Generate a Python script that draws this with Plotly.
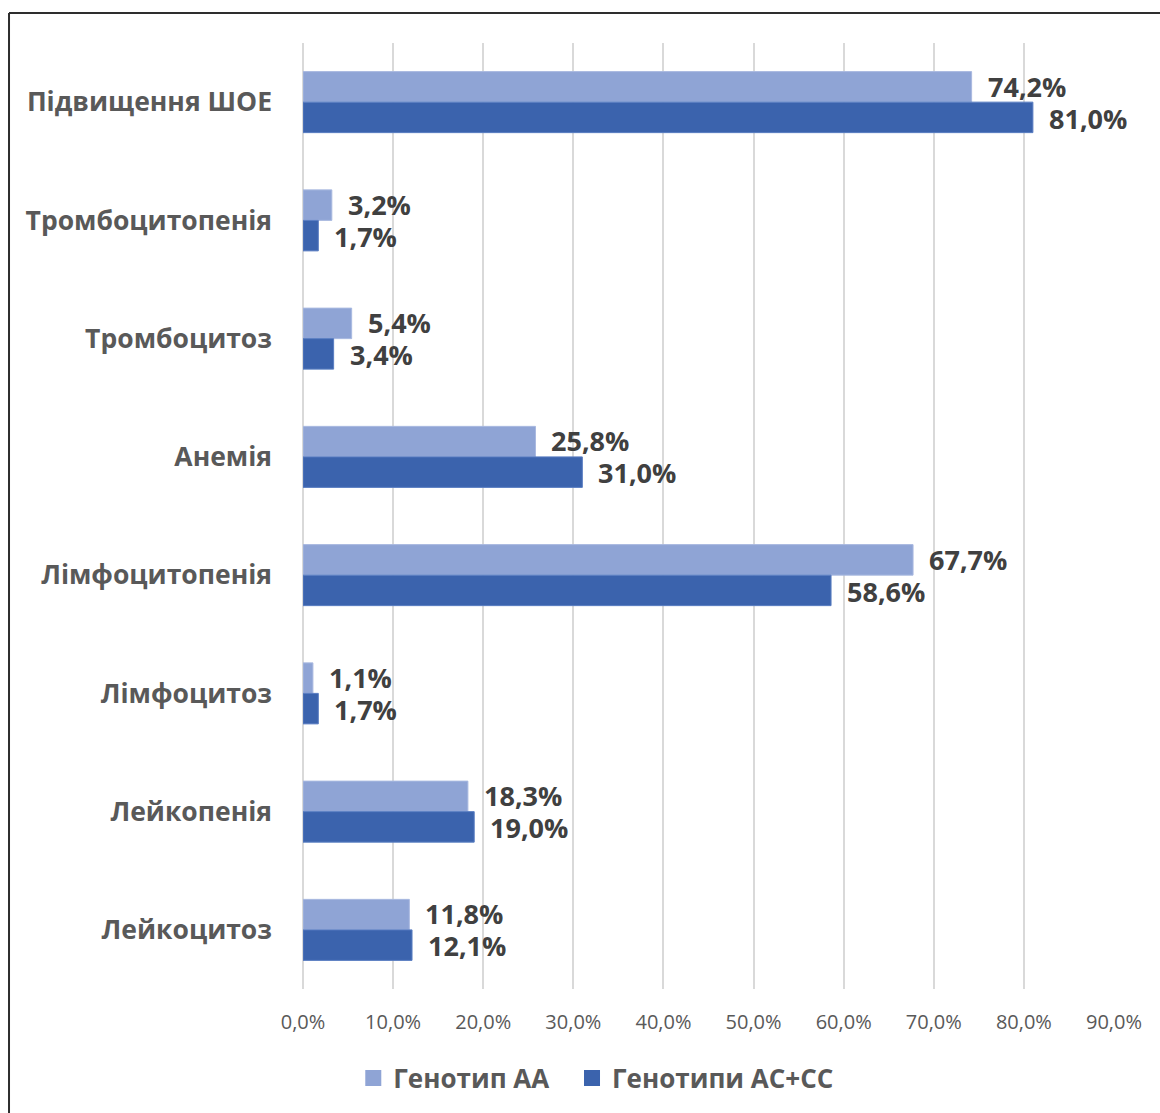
import plotly.graph_objects as go

# Haematological findings by genotype, % of patients
categories = [
    "Підвищення ШОЕ",
    "Тромбоцитопенія",
    "Тромбоцитоз",
    "Анемія",
    "Лімфоцитопенія",
    "Лімфоцитоз",
    "Лейкопенія",
    "Лейкоцитоз",
]
genotype_aa = [74.2, 3.2, 5.4, 25.8, 67.7, 1.1, 18.3, 11.8]
genotype_ac_cc = [81.0, 1.7, 3.4, 31.0, 58.6, 1.7, 19.0, 12.1]
series_names = ["Генотип АА", "Генотипи АС+СС"]
x_ticks = [0, 10, 20, 30, 40, 50, 60, 70, 80, 90]
x_tick_labels = ["0,0%", "10,0%", "20,0%", "30,0%", "40,0%",
                 "50,0%", "60,0%", "70,0%", "80,0%", "90,0%"]

LIGHT = "#8FA4D5"
DARK = "#3B63AD"
TEXT_DARK = "#404040"
TEXT_GREY = "#595959"
FONT = "Open Sans"


def pct(v):
    return f"{v:.1f}".replace(".", ",") + "%"


fig = go.Figure()
fig.add_trace(go.Bar(
    y=categories, x=genotype_aa, name=series_names[0], orientation="h",
    marker=dict(color=LIGHT, line=dict(color="#A9B9E0", width=1)),
    showlegend=False,
))
fig.add_trace(go.Bar(
    y=categories, x=genotype_ac_cc, name=series_names[1], orientation="h",
    marker=dict(color=DARK, line=dict(color="#5A7EC2", width=1)),
    showlegend=False,
))

# legend entries with larger square swatches, one legend box per series
for name, color, leg in zip(series_names, (LIGHT, DARK), ("legend", "legend2")):
    fig.add_trace(go.Scatter(
        x=[None], y=[None], mode="markers", name=name, legend=leg,
        marker=dict(symbol="square", size=17, color=color),
        hoverinfo="skip",
    ))

# value labels just to the right of each bar
annotations = []
for cat, a, b in zip(categories, genotype_aa, genotype_ac_cc):
    for val, shift in ((a, 16), (b, -16)):
        annotations.append(dict(
            x=val, y=cat, xref="x", yref="y", text=pct(val), showarrow=False,
            xanchor="left", yanchor="middle", xshift=14, yshift=shift,
            height=29, valign="middle",
            font=dict(family=FONT, size=27, color=TEXT_DARK, weight="bold"),
        ))

legend_style = dict(
    orientation="h", y=-0.093, xanchor="left", yanchor="middle",
    font=dict(family=FONT, size=26, color=TEXT_GREY, weight="bold"),
    itemwidth=30, bgcolor="rgba(0,0,0,0)",
)

fig.update_layout(
    width=1160, height=1113,
    margin=dict(l=303, r=46, t=43, b=123),
    paper_bgcolor="white", plot_bgcolor="white",
    barmode="group", bargap=0.484, bargroupgap=0,
    font=dict(family=FONT, color=TEXT_GREY),
    annotations=annotations,
    legend=dict(x=0.062, **legend_style),
    legend2=dict(x=0.3317, **legend_style),
    showlegend=True,
    shapes=[
        # chart frame (top and left edges)
        dict(type="line", xref="paper", yref="paper", x0=-0.3625, x1=1.06,
             y0=1.0317, y1=1.0317, line=dict(color="#2E2E2E", width=2)),
        dict(type="line", xref="paper", yref="paper", x0=-0.3625, x1=-0.3625,
             y0=1.0317, y1=-0.14, line=dict(color="#2E2E2E", width=2)),
    ],
)

fig.update_xaxes(
    range=[0, 90], tickvals=x_ticks, ticktext=x_tick_labels,
    showgrid=True, gridcolor="#D9D9D9", gridwidth=1.5,
    zeroline=True, zerolinecolor="#D9D9D9", zerolinewidth=1.5,
    showline=False, ticks="", ticklabelstandoff=19,
    tickfont=dict(family=FONT, size=20, color=TEXT_GREY),
)
fig.update_yaxes(
    autorange="reversed", showgrid=False, showline=False, ticks="",
    ticklabelstandoff=30,
    tickfont=dict(family=FONT, size=26.5, color=TEXT_GREY, weight="bold"),
)

fig.write_html("out.html")
